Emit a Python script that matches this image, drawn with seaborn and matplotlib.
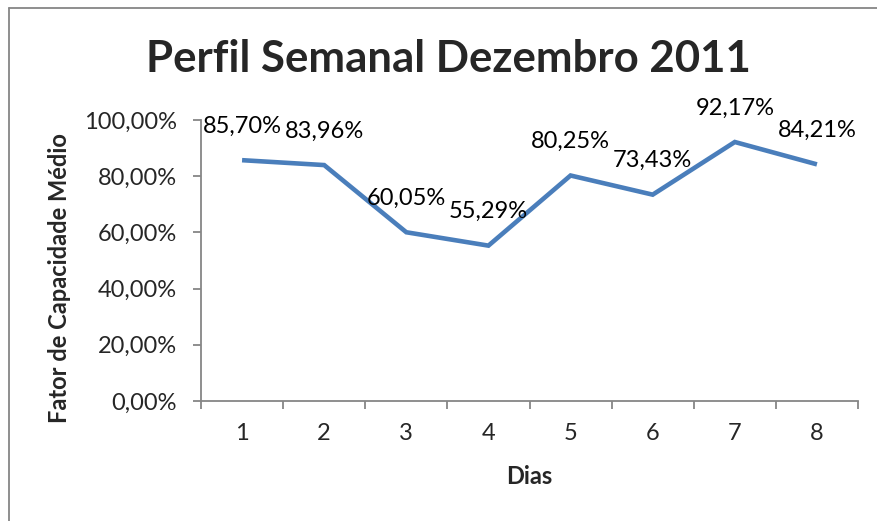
import numpy as np
import pandas as pd
import matplotlib
matplotlib.use("Agg")
import matplotlib.pyplot as plt
from matplotlib.ticker import FuncFormatter, FixedLocator
import seaborn as sns

# ---- data ----
dias = [1, 2, 3, 4, 5, 6, 7, 8]
fator = [0.8570, 0.8396, 0.6005, 0.5529, 0.8025, 0.7343, 0.9217, 0.8421]
y_ticks = [0.0, 0.2, 0.4, 0.6, 0.8, 1.0]
title = "Perfil Semanal Dezembro 2011"
xlabel = "Dias"
ylabel = "Fator de Capacidade Médio"

df = pd.DataFrame({"Dias": dias, "Fator": fator})

sns.set_style("white")
plt.rcParams["font.family"] = ["Lato", "DejaVu Sans"]

W, H = 877, 521
fig = plt.figure(figsize=(W / 100, H / 100), dpi=100)
fig.patch.set_facecolor("white")

left, right, top, bottom = 201, 858, 120, 401
ax = fig.add_axes([left / W, 1 - bottom / H, (right - left) / W, (bottom - top) / H])

line_color = "#4A7EBB"
axis_color = "#868686"

sns.lineplot(data=df, x="Dias", y="Fator", ax=ax, color=line_color,
             linewidth=3.3, solid_joinstyle="miter", solid_capstyle="butt")

ax.set_xlim(0.5, 8.5)
ax.set_ylim(0, 1.0)

fmt = lambda v, p: f"{v*100:.2f}%".replace(".", ",")
ax.yaxis.set_major_locator(FixedLocator(y_ticks))
ax.yaxis.set_major_formatter(FuncFormatter(fmt))

ax.set_xticks(dias)
ax.set_xticklabels([str(d) for d in dias])
ax.set_xticks(np.arange(0.5, 9.0, 1.0), minor=True)

for s in ["top", "right"]:
    ax.spines[s].set_visible(False)
for s in ["left", "bottom"]:
    ax.spines[s].set_color(axis_color)
    ax.spines[s].set_linewidth(1.3)

ax.tick_params(axis="y", which="major", direction="out", length=5.5, width=1.3,
               color=axis_color, labelsize=17, pad=12, left=True)
ax.tick_params(axis="x", which="major", length=0, labelsize=17, pad=16, bottom=True)
ax.tick_params(axis="x", which="minor", direction="out", length=5.5, width=1.3,
               color=axis_color, bottom=True)
ax.set_xlabel("")
ax.set_ylabel("")
ax.grid(False)

for x, y in zip(dias, fator):
    ax.annotate(fmt(y, None), (x, y), xytext=(0, 24.5), textcoords="offset points",
                ha="center", va="center", fontsize=17, color="black")

fig.text(448 / W, 1 - 72 / H, title, ha="center", va="baseline",
         fontsize=31.5, fontweight="bold")
fig.text(60 / W, 1 - 278 / H, ylabel, ha="center", va="center",
         rotation=90, fontsize=17, fontweight="bold")
fig.text(529 / W, 1 - 477 / H, xlabel, ha="center", va="center",
         fontsize=17, fontweight="bold")

# chart border
fig.add_artist(plt.Line2D([8.5 / W, 8.5 / W], [0, 1 - 8 / H], transform=fig.transFigure,
                          color=axis_color, linewidth=1.3))
fig.add_artist(plt.Line2D([8.5 / W, 1], [1 - 8 / H, 1 - 8 / H], transform=fig.transFigure,
                          color=axis_color, linewidth=1.3))

fig.savefig("out.png", dpi=100)
